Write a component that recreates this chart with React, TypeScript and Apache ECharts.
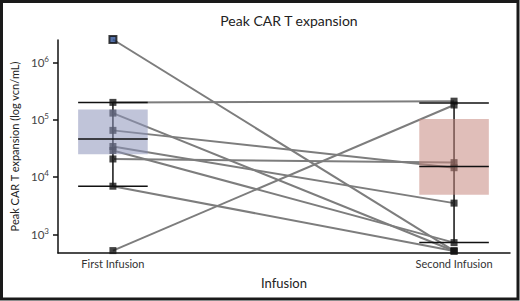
import React, { useEffect, useRef } from "react";
import * as echarts from "echarts";

// ---- Data ----
const categories = ["First Infusion", "Second Infusion"];
// paired values per patient (log vcn/mL)
const firstInfusion = [2.5e6, 2.0e5, 1.3e5, 6.5e4, 3.4e4, 2.9e4, 2.06e4, 6.9e3, 520];
const secondInfusion = [512, 2.1e5, 512, 1.45e4, 3.5e3, 716, 1.78e4, 512, 1.8e5];
// summary boxes per infusion
const whiskerLow = [6.9e3, 720];
const boxQ1 = [2.5e4, 4.9e3];
const boxMedian = [4.6e4, 1.53e4];
const boxQ3 = [1.5e5, 1.03e5];
const whiskerHigh = [2.0e5, 1.95e5];
const yTicks = [1e3, 1e4, 1e5, 1e6];

// ---- styling constants ----
const BOX_HALF = 0.102;
const BOX_FILL = ["rgba(140,147,185,0.55)", "rgba(198,135,125,0.54)"];
const FONT = "Lato";

export default function App() {
  const ref = useRef<HTMLDivElement>(null);
  useEffect(() => {
    if (!ref.current) return;
    const chart = echarts.init(ref.current, undefined, { renderer: "svg" });

    const boxData = categories.map((_, i) => [i, whiskerLow[i], boxQ1[i], boxMedian[i], boxQ3[i], whiskerHigh[i]]);

    const lineSeries = firstInfusion.map((v, i) => ({
      type: "line",
      data: [
        [0, v],
        [1, secondInfusion[i]],
      ],
      symbol: "none",
      clip: false,
      lineStyle: { color: "#7d7d7d", width: 2 },
      z: 2,
      silent: true,
    }));

    const points: any[] = [];
    firstInfusion.forEach((v, i) => {
      const item: any = { value: [0, v] };
      if (i === 0) item.itemStyle = { color: "#2c4f92", borderColor: "#111", borderWidth: 2 };
      points.push(item);
      points.push({ value: [1, secondInfusion[i]] });
    });

    const option: any = {
      animation: false,
      textStyle: { fontFamily: FONT },
      title: {
        text: "Peak CAR T expansion",
        left: 284,
        top: 8,
        textAlign: "center",
        textStyle: { fontFamily: FONT, fontSize: 14, fontWeight: "normal", color: "#222" },
      },
      grid: { left: 58, right: 10, top: 40, bottom: 48 },
      xAxis: {
        type: "value",
        min: -0.161,
        max: 1.164,
        name: "Infusion",
        nameLocation: "middle",
        nameGap: 23,
        nameTextStyle: { fontFamily: FONT, fontSize: 13, color: "#222" },
        axisLine: { show: true, onZero: false, lineStyle: { color: "#111", width: 1.5 } },
        axisTick: { show: false },
        splitLine: { show: false },
        axisLabel: {
          customValues: [0, 1],
          formatter: (v: number) => categories[Math.round(v)] ?? "",
          fontFamily: FONT,
          fontSize: 11,
          color: "#333",
          margin: 5,
        },
      },
      yAxis: {
        type: "log",
        logBase: 10,
        min: 472,
        max: 2.45e6,
        name: "Peak CAR T expansion (log vcn/mL)",
        nameLocation: "middle",
        nameGap: 35,
        nameTextStyle: { fontFamily: FONT, fontSize: 11, color: "#222" },
        axisLine: { show: true, onZero: false, lineStyle: { color: "#111", width: 1.5 } },
        axisTick: { show: true, length: 5, customValues: yTicks, lineStyle: { color: "#111", width: 1.5 } },
        splitLine: { show: false },
        axisLabel: {
          customValues: yTicks,
          margin: 9,
          formatter: (v: number) => "{b|10}{s|" + Math.round(Math.log10(v)) + "}",
          rich: {
            b: { fontFamily: FONT, fontSize: 11.5, color: "#444" },
            s: { fontFamily: FONT, fontSize: 8, color: "#444", padding: [0, 0, 7, 0] },
          },
        },
      },
      series: [
        {
          type: "custom",
          z: 1,
          silent: true,
          data: boxData,
          encode: { x: 0, y: [1, 5] },
          renderItem: (_p: any, api: any) => {
            const x = api.value(0);
            const a = api.coord([x, api.value(1)]);
            const b = api.coord([x, api.value(5)]);
            return {
              type: "line",
              shape: { x1: a[0], y1: a[1], x2: b[0], y2: b[1] },
              style: { stroke: "#111", lineWidth: 1.5 },
            };
          },
        },
        ...lineSeries,
        {
          type: "scatter",
          z: 3,
          data: points,
          symbol: "rect",
          symbolSize: 7,
          clip: false,
          itemStyle: { color: "#151515" },
          silent: true,
        },
        {
          type: "custom",
          z: 4,
          silent: true,
          data: boxData,
          encode: { x: 0, y: [2, 4] },
          renderItem: (p: any, api: any) => {
            const x = api.value(0);
            const lo = api.coord([x - BOX_HALF, api.value(2)]);
            const hi = api.coord([x + BOX_HALF, api.value(4)]);
            return {
              type: "rect",
              shape: { x: lo[0], y: hi[1], width: hi[0] - lo[0], height: lo[1] - hi[1] },
              style: { fill: BOX_FILL[p.dataIndex] },
            };
          },
        },
        {
          type: "custom",
          z: 5,
          silent: true,
          data: boxData,
          encode: { x: 0, y: [1, 3, 5] },
          renderItem: (_p: any, api: any) => {
            const x = api.value(0);
            const mk = (dim: number) => {
              const l = api.coord([x - BOX_HALF, api.value(dim)]);
              const r = api.coord([x + BOX_HALF, api.value(dim)]);
              return {
                type: "line",
                shape: { x1: l[0], y1: l[1], x2: r[0], y2: r[1] },
                style: { stroke: "#111", lineWidth: 1.5 },
              };
            };
            return { type: "group", children: [mk(1), mk(3), mk(5)] };
          },
        },
      ],
      graphic: [
        {
          type: "rect",
          x: 0,
          y: 0,
          z: 100,
          silent: true,
          shape: { x: 1.5, y: 1.5, width: 516.5, height: 297.5 },
          style: { fill: "none", stroke: "#1a1a1a", lineWidth: 3 },
        },
      ],
    };

    chart.setOption(option);
    return () => chart.dispose();
  }, []);

  return (
    <div
      ref={ref}
      style={{ position: "fixed", left: 0, top: 0, width: 520, height: 301, background: "#fff" }}
    />
  );
}
